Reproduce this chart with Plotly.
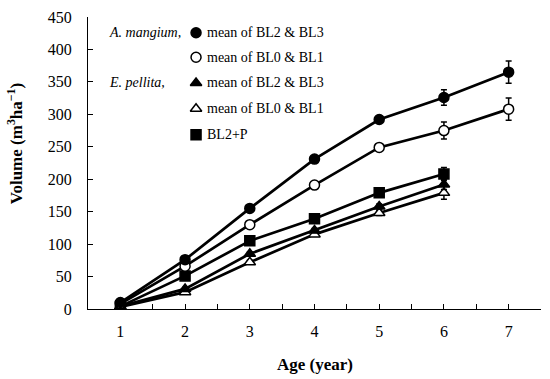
import plotly.graph_objects as go

ages = [1, 2, 3, 4, 5, 6, 7]
am_bl23 = [10, 76, 155, 231, 292, 326, 365]
am_bl23_err = [1, 3, 4, 4, 5, 12, 17]
am_bl01 = [8, 66, 130, 191, 249, 275, 308]
am_bl01_err = [1, 3, 3, 4, 4, 13, 17]
ep_bl23 = [4, 31, 85, 121, 158, 192]
ep_bl23_err = [1, 2, 3, 3, 4, 8]
ep_bl01 = [3, 26, 72, 115, 148, 179]
ep_bl01_err = [1, 2, 3, 3, 4, 10]
ep_bl2p = [4, 51, 105, 139, 179, 208]
ep_bl2p_err = [1, 3, 3, 3, 5, 10]

legend_names = ["mean of BL2 & BL3", "mean of BL0 & BL1", "mean of BL2 & BL3",
                "mean of BL0 & BL1", "BL2+P"]
species_labels = ["A. mangium,", "E. pellita,"]
x_ticks = [1, 2, 3, 4, 5, 6, 7]
y_ticks = [0, 50, 100, 150, 200, 250, 300, 350, 400, 450]

FONT = "Liberation Serif, Times New Roman, serif"
series = [
    (am_bl23, am_bl23_err, "circle", False),
    (am_bl01, am_bl01_err, "circle", True),
    (ep_bl23, ep_bl23_err, "triangle-up", False),
    (ep_bl01, ep_bl01_err, "triangle-up", True),
    (ep_bl2p, ep_bl2p_err, "square", False),
]

fig = go.Figure()
for vals, err, sym, open_ in reversed(series):
    fig.add_trace(go.Scatter(
        x=ages[:len(vals)], y=vals, mode="lines+markers",
        line=dict(color="black", width=2.7),
        marker=dict(symbol=sym, size=10,
                    color="white" if open_ else "black",
                    line=dict(color="black", width=1.5)),
        error_y=dict(type="data", array=err, visible=True, color="black",
                     thickness=1.5, width=3),
        showlegend=False,
    ))

# legend keys on an overlay axis spanning the plot domain
leg_y = [0.946, 0.862, 0.774, 0.686, 0.597]
leg_x = 0.2385
for i, (vals, err, sym, open_) in enumerate(series):
    fig.add_trace(go.Scatter(
        x=[leg_x], y=[leg_y[i]], mode="markers", xaxis="x2", yaxis="y2",
        marker=dict(symbol=sym, size=10,
                    color="white" if open_ else "black",
                    line=dict(color="black", width=1.5)),
        showlegend=False, hoverinfo="skip",
    ))
    fig.add_annotation(x=leg_x, y=leg_y[i], xref="x2", yref="y2", xshift=9,
                       text=legend_names[i], showarrow=False, xanchor="left",
                       yanchor="middle", font=dict(family=FONT, size=14, color="black"))

for lab, yy in zip(species_labels, [leg_y[0], leg_y[2]]):
    fig.add_annotation(x=0.0416, y=yy, xref="x2", yref="y2", text="<i>" + lab + "</i>",
                       showarrow=False, xanchor="left", yanchor="middle",
                       font=dict(family=FONT, size=14, color="black"))

# axis titles (plot area spans x 88..541, y 13..309 in page pixels)
fig.add_annotation(x=(15 - 88) / 453, y=(309 - 141) / 296, xref="paper", yref="paper",
                   text="<b>Volume (m<sup>3</sup>ha<sup>\u22121</sup>)</b>",
                   showarrow=False, textangle=-90, xanchor="center", yanchor="middle",
                   font=dict(family=FONT, size=17, color="black"))
fig.add_annotation(x=(314.5 - 88) / 453, y=(309 - 365) / 296, xref="paper", yref="paper",
                   text="<b>Age (year)</b>", showarrow=False, xanchor="center", yanchor="middle",
                   font=dict(family=FONT, size=17, color="black"))

fig.update_layout(
    width=550, height=379,
    margin=dict(l=88, r=9, t=13, b=70),
    paper_bgcolor="white", plot_bgcolor="white",
    font=dict(family=FONT, size=16, color="black"),
    xaxis=dict(range=[0.5, 7.5], tickvals=x_ticks, ticks="inside", ticklen=5,
               tickcolor="black", showline=True, linecolor="black", linewidth=1,
               showgrid=False, zeroline=False, ticklabelstandoff=8,
               minor=dict(dtick=0.5, tick0=0.5, ticks="inside", ticklen=5, tickcolor="black")),
    yaxis=dict(range=[0, 450], tickvals=y_ticks, ticks="inside", ticklen=5,
               tickcolor="black", showline=True, linecolor="black", linewidth=1,
               showgrid=False, zeroline=False, ticklabelstandoff=12),
    xaxis2=dict(overlaying="x", range=[0, 1], visible=False),
    yaxis2=dict(overlaying="y", range=[0, 1], visible=False),
)

fig.write_html("out.html", config={"displayModeBar": False},
               post_script="document.body.style.margin='0';document.body.style.overflow='hidden';")
